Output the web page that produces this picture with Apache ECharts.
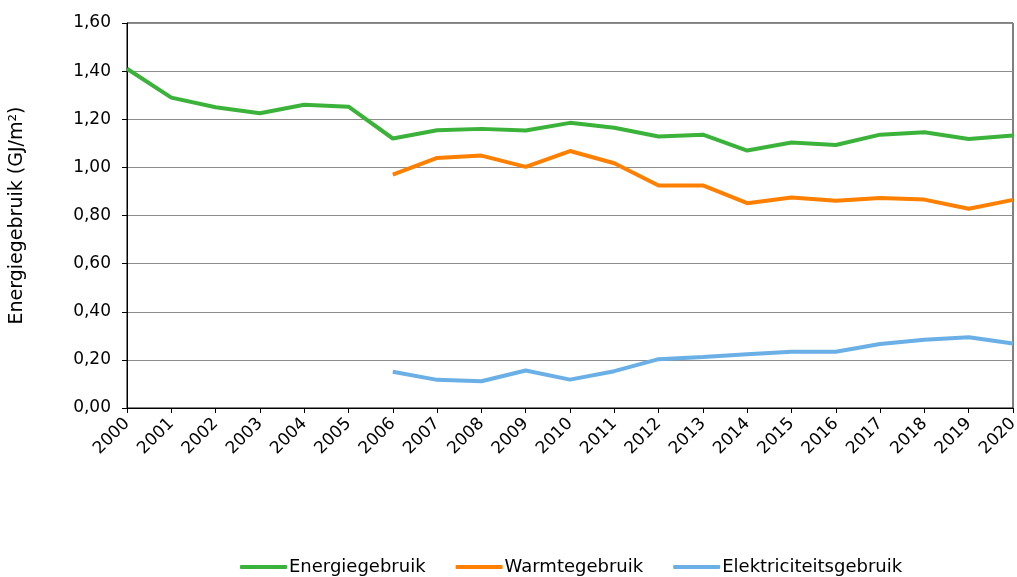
<!DOCTYPE html>
<html>
<head>
<meta charset="utf-8">
<script src="https://cdn.jsdelivr.net/npm/echarts@6/dist/echarts.min.js"></script>
<style>
  html, body { margin: 0; padding: 0; background: #fff; }
  #chart { width: 1017px; height: 577px; }
</style>
</head>
<body>
<div id="chart"></div>
<script>
  var years = ['2000', '2001', '2002', '2003', '2004', '2005', '2006', '2007', '2008', '2009', '2010',
    '2011', '2012', '2013', '2014', '2015', '2016', '2017', '2018', '2019', '2020']
  var energie = [1.41, 1.29, 1.25, 1.225, 1.26, 1.252, 1.12, 1.154, 1.16, 1.153, 1.185,
    1.165, 1.128, 1.136, 1.07, 1.103, 1.093, 1.136, 1.146, 1.118, 1.132]
  var warmte = [null, null, null, null, null, null, 0.97, 1.039, 1.049, 1.002, 1.068,
    1.017, 0.925, 0.925, 0.851, 0.875, 0.861, 0.873, 0.866, 0.828, 0.865]
  var elektra = [null, null, null, null, null, null, 0.151, 0.117, 0.111, 0.156, 0.118,
    0.153, 0.203, 0.212, 0.223, 0.234, 0.234, 0.266, 0.284, 0.294, 0.268]

  var font = '"DejaVu Sans", Verdana, sans-serif'

  var chart = echarts.init(document.getElementById('chart'))
  chart.setOption({
    animation: false,
    textStyle: { fontFamily: font },
    grid: {
      left: 127,
      right: 4,
      top: 23,
      bottom: 169,
      outerBoundsMode: 'none',
      containLabel: false,
      show: true,
      borderColor: '#000',
      borderWidth: 1
    },
    legend: {
      bottom: 1,
      left: 240,
      padding: 0,
      itemWidth: 47,
      itemHeight: 4,
      itemGap: 30,
      icon: 'roundRect',
      textStyle: { fontFamily: font, fontSize: 18, color: '#000', padding: [0, 0, 0, -3] },
      data: ['Energiegebruik', 'Warmtegebruik', 'Elektriciteitsgebruik']
    },
    xAxis: {
      type: 'category',
      boundaryGap: false,
      data: years,
      axisLine: { lineStyle: { color: '#000', width: 1 } },
      axisTick: { alignWithLabel: true, length: 5, lineStyle: { color: '#000' } },
      axisLabel: { rotate: 45, color: '#000', fontSize: 17, fontFamily: font, margin: 13, interval: 0 }
    },
    yAxis: {
      type: 'value',
      min: 0,
      max: 1.6,
      interval: 0.2,
      name: 'Energiegebruik (GJ/m²)',
      nameLocation: 'middle',
      nameGap: 100,
      nameTextStyle: { color: '#000', fontSize: 19, fontFamily: font },
      axisLine: { show: true, lineStyle: { color: '#000', width: 1 } },
      axisTick: { show: true, length: 5, lineStyle: { color: '#000' } },
      axisLabel: {
        color: '#000',
        fontSize: 17,
        fontFamily: font,
        margin: 16,
        formatter: function (v) { return v.toFixed(2).replace('.', ',') }
      },
      splitLine: { lineStyle: { color: '#8c8c8c', width: 1 } }
    },
    series: [
      {
        name: 'Energiegebruik',
        type: 'line',
        data: energie,
        symbol: 'none',
        lineStyle: { color: '#3bb33a', width: 4 },
        itemStyle: { color: '#3bb33a' }
      },
      {
        name: 'Warmtegebruik',
        type: 'line',
        data: warmte,
        symbol: 'none',
        lineStyle: { color: '#ff8000', width: 4 },
        itemStyle: { color: '#ff8000' }
      },
      {
        name: 'Elektriciteitsgebruik',
        type: 'line',
        data: elektra,
        symbol: 'none',
        lineStyle: { color: '#6aafe6', width: 4 },
        itemStyle: { color: '#6aafe6' }
      }
    ]
  })
</script>
</body>
</html>
